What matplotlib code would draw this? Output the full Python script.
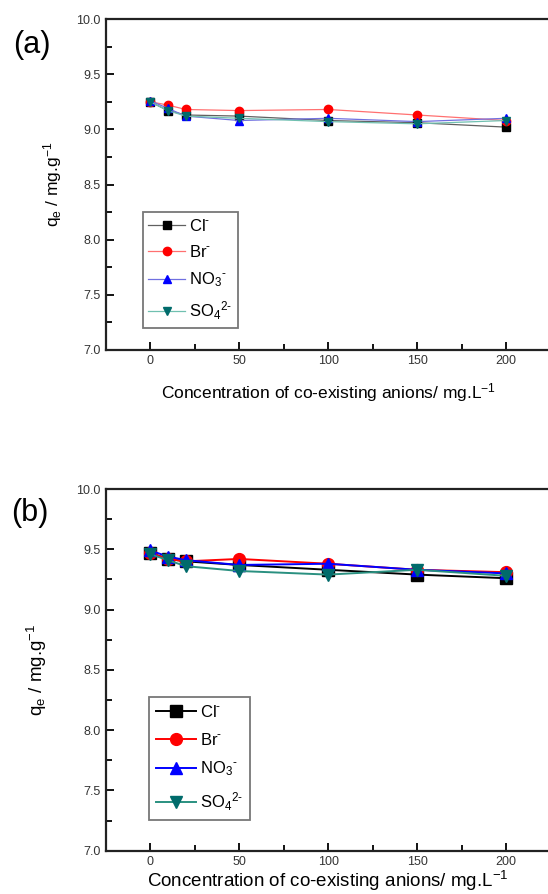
import matplotlib
matplotlib.use('Agg')
import matplotlib.pyplot as plt
from matplotlib.ticker import MultipleLocator

plt.rcParams['font.family'] = ['Liberation Sans', 'DejaVu Sans']
plt.rcParams['mathtext.fontset'] = 'custom'
plt.rcParams['mathtext.rm'] = 'Liberation Sans'
plt.rcParams['mathtext.it'] = 'Liberation Sans'

conc = [0, 10, 20, 50, 100, 150, 200]

labels = [r'Cl$^{\text{-}}$', r'Br$^{\text{-}}$', r'NO$_3$$^{\text{-}}$', r'SO$_4$$^{\text{2-}}$']
markers = ['s', 'o', '^', 'v']
marker_colors = ['#000000', '#ff0000', '#0000ff', '#006b6b']

# panel (a)
qa_cl = [9.25, 9.17, 9.13, 9.12, 9.08, 9.06, 9.02]
qa_br = [9.25, 9.22, 9.18, 9.17, 9.18, 9.13, 9.08]
qa_no3 = [9.26, 9.19, 9.12, 9.08, 9.10, 9.07, 9.10]
qa_so4 = [9.25, 9.17, 9.12, 9.10, 9.07, 9.05, 9.08]
line_colors_a = ['#606060', '#ff7070', '#7070e0', '#70c0b0']

# panel (b)
qb_cl = [9.47, 9.42, 9.40, 9.37, 9.33, 9.29, 9.26]
qb_br = [9.47, 9.42, 9.40, 9.42, 9.38, 9.33, 9.31]
qb_no3 = [9.49, 9.44, 9.41, 9.37, 9.38, 9.33, 9.30]
qb_so4 = [9.46, 9.41, 9.36, 9.32, 9.29, 9.33, 9.28]
line_colors_b = ['#000000', '#ff0000', '#0000ff', '#2a9080']

fig = plt.figure(figsize=(5.48, 8.94), dpi=100)
W, H = 548.0, 894.0


def setup(ax):
    ax.set_xlim(-25, 225)
    ax.set_ylim(7.0, 10.0)
    ax.xaxis.set_minor_locator(MultipleLocator(25))
    ax.yaxis.set_major_locator(MultipleLocator(0.5))
    ax.yaxis.set_minor_locator(MultipleLocator(0.25))
    ax.set_xticks([0, 50, 100, 150, 200])
    ax.yaxis.set_major_formatter(matplotlib.ticker.FormatStrFormatter('%.1f'))
    ax.tick_params(which='both', direction='in', top=False, right=False,
                   labelsize=9, labelcolor='#333333', width=1.3)
    ax.tick_params(which='major', length=6)
    ax.tick_params(which='minor', length=4)
    for s in ax.spines.values():
        s.set_linewidth(1.6)
        s.set_color('#222222')


# (a)
ax1 = fig.add_axes([105.6 / W, 1 - 350 / H, 445 / W, 331 / H])
setup(ax1)
for q, lab, m, mc, lc in zip([qa_cl, qa_br, qa_no3, qa_so4], labels, markers,
                             marker_colors, line_colors_a):
    ax1.plot(conc, q, color=lc, lw=0.9, marker=m, ms=6, mfc=mc, mec=mc, label=lab)
leg = ax1.legend(loc='upper left', bbox_to_anchor=(142.6 / W, 1 - 212 / H),
                 bbox_transform=fig.transFigure, fontsize=12, frameon=True,
                 fancybox=False, edgecolor='#555555', handlelength=2.2,
                 handletextpad=0.25, borderpad=0.35, labelspacing=0.62,
                 borderaxespad=0)
leg.get_frame().set_linewidth(1.3)
ax1.set_xlabel('Concentration of co-existing anions/ mg.L$^{-1}$', fontsize=12.5, labelpad=10)
ax1.set_ylabel('q$_e$ / mg.g$^{-1}$', fontsize=12.5, labelpad=9)
fig.text(13 / W, 1 - 45 / H, '(a)', fontsize=22, va='center', ha='left')

# (b)
ax2 = fig.add_axes([105.6 / W, 1 - 850.7 / H, 445 / W, 361.7 / H])
setup(ax2)
for q, lab, m, mc, lc in zip([qb_cl, qb_br, qb_no3, qb_so4], labels, markers,
                             marker_colors, line_colors_b):
    ax2.plot(conc, q, color=lc, lw=1.4, marker=m, ms=8.5, mfc=mc, mec=mc, label=lab)
leg = ax2.legend(loc='upper left', bbox_to_anchor=(149 / W, 1 - 697 / H),
                 bbox_transform=fig.transFigure, fontsize=12, frameon=True,
                 fancybox=False, edgecolor='#555555', handlelength=2.4,
                 handletextpad=0.25, borderpad=0.4, labelspacing=0.72,
                 borderaxespad=0)
leg.get_frame().set_linewidth(1.3)
ax2.set_xlabel('Concentration of co-existing anions/ mg.L$^{-1}$', fontsize=13.5, labelpad=1)
ax2.set_ylabel('q$_e$ / mg.g$^{-1}$', fontsize=13.5, labelpad=20)
fig.text(11 / W, 1 - 513 / H, '(b)', fontsize=22, va='center', ha='left')

fig.savefig('out.png', dpi=100)
